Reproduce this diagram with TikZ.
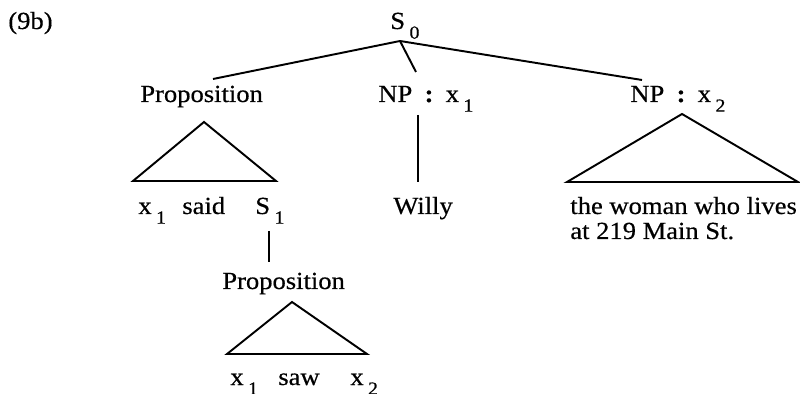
\documentclass[tikz,border=0pt]{standalone}
\usepackage{fontspec}
\setmainfont{Liberation Serif}[FakeStretch=1.08,FakeBold=0.5]
\newcommand{\sbx}[1]{\kern2.5pt\raisebox{-5.5pt}{\fontsize{10.5}{10.5}\selectfont #1}}
\newcommand{\colonsep}{\hspace{7pt}\textbf{:}\hspace{7pt}}
\begin{document}
\begin{tikzpicture}[x=0.02cm,y=-0.02cm,
  txt/.style={inner sep=0pt, anchor=base west, font=\fontsize{14}{16}\selectfont},
  branch/.style={line width=1.1pt},
  tri/.style={line width=1.1pt, line join=miter}]
\useasboundingbox (0,0) rectangle (800,394);

% texts
\node[txt] (lab) at (8,29) {(9b)};
\node[txt] (s0) at (390,29) {S\sbx{0}};
\node[txt] (prop1) at (140,102) {Proposition};
\node[txt] (np1) at (378,102) {NP\colonsep x\sbx{1}};
\node[txt] (np2) at (630,102) {NP\colonsep x\sbx{2}};
\node[txt] (xa) at (138,214) {x\sbx{1}};
\node[txt] (said) at (182,214) {said};
\node[txt] (s1) at (255,214) {S\sbx{1}};
\node[txt] (willy) at (393,214) {Willy};
\node[txt] (woman1) at (570,214) {the woman who lives};
\node[txt] (woman2) at (570,239) {at 219 Main St.};
\node[txt] (prop2) at (222,289) {Proposition};
\node[txt] (xb) at (230,385) {x\sbx{1}};
\node[txt] (saw) at (278,385) {saw};
\node[txt] (xc) at (350,385) {x\sbx{2}};

% connector end points
\coordinate (s0b) at (400,41);
\coordinate (prop1t) at (213,79);
\coordinate (np1t) at (416,72);
\coordinate (np2t) at (642,80);
\coordinate (np1b) at (418,115);
\coordinate (willyt) at (418,182);
\coordinate (s1b) at (269,231);
\coordinate (prop2t) at (269,262);

% branches
\draw[branch] (s0b) -- (prop1t);
\draw[branch] (s0b) -- (np1t);
\draw[branch] (s0b) -- (np2t);
\draw[branch] (np1b) -- (willyt);
\draw[branch] (s1b) -- (prop2t);

% triangles
\draw[tri] (204,122) -- (276,181) -- (133,181) -- cycle;
\draw[tri] (682,114) -- (798,182) -- (567,182) -- cycle;
\draw[tri] (292,302) -- (367,354) -- (227,354) -- cycle;
\end{tikzpicture}
\end{document}
